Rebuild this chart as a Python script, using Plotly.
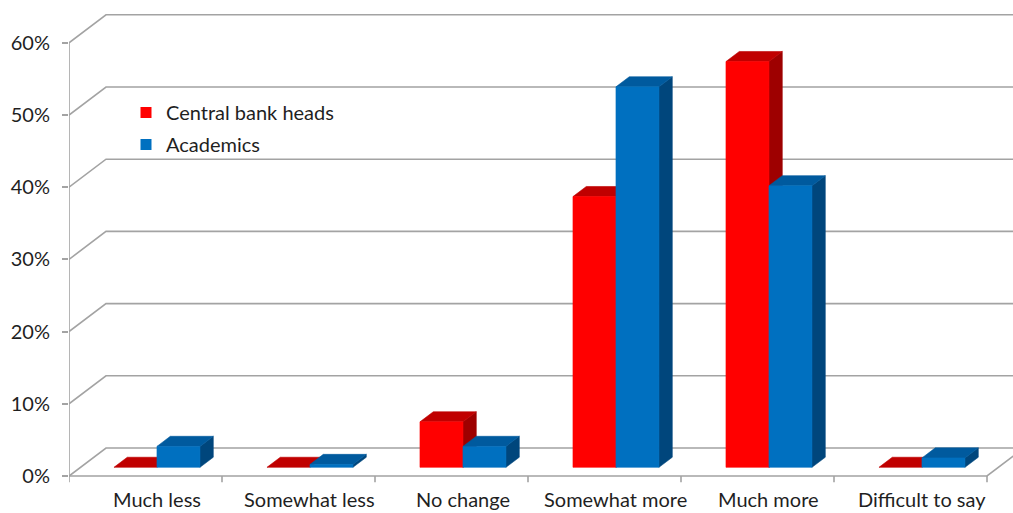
import plotly.graph_objects as go

categories = ["Much less", "Somewhat less", "No change", "Somewhat more", "Much more", "Difficult to say"]
central_bank_heads = [0.0, 0.0, 6.3, 37.5, 56.2, 0.0]
academics = [2.9, 0.4, 2.9, 52.7, 39.0, 1.3]
y_ticks = [0, 10, 20, 30, 40, 50, 60]
y_tick_labels = ["0%", "10%", "20%", "30%", "40%", "50%", "60%"]

# ---- layout / style constants ----
W, H = 1013, 513
LEFT = 69                 # pixel of the front vertical axis
PX_PER_CAT = 153.0
PX_PER_PCT = 7.22
ZERO_PX = 476
X_MIN = -0.5
X_MAX = X_MIN + (W - LEFT) / PX_PER_CAT
Y_MIN = -(H - ZERO_PX) / PX_PER_PCT
Y_MAX = ZERO_PX / PX_PER_PCT

DX = 37 / PX_PER_CAT      # depth offset (x, category units)
DY = 28 / PX_PER_PCT      # depth offset (y, percent units)
F0, F1 = 0.31, 0.67       # bar front/back depth fractions
BAR_W = 43 / PX_PER_CAT
GRID = "#a3a3a3"
FONT = "Lato"
FS = 20
TXT = "#1f1f1f"
LABEL_CENTER_PX = 498.5

series = [
    ("Central bank heads", central_bank_heads, -1, "#ff0000", "#c00000", "#9e0000"),
    ("Academics", academics, 0, "#0070c0", "#005a9e", "#00467c"),
]

fig = go.Figure()

# ---- walls / floor / gridlines ----
n = len(categories)
x_front_l = -0.5
x_front_r = n - 0.5
x_back_l = x_front_l + DX
x_far = X_MAX + 0.5
gx, gy = [], []
for v in y_ticks:
    gx += [x_front_l, x_back_l, x_far, None]
    gy += [v, v + DY, v + DY, None]
# front floor edge and right floor diagonal
gx += [x_front_l, x_front_r, x_front_r + DX, None]
gy += [0, 0, DY, None]
# vertical front axis
gx += [x_front_l, x_front_l, None]
gy += [0, y_ticks[-1], None]
# category tick marks
for k in range(n + 1):
    gx += [x_front_l + k, x_front_l + k, None]
    gy += [0, -0.85, None]
fig.add_trace(go.Scatter(x=gx, y=gy, mode="lines", line=dict(color=GRID, width=1.6),
                         hoverinfo="skip", showlegend=False))

# ---- 3D bars ----
base0 = F0 * DY
xoff0 = F0 * DX
ddx = (F1 - F0) * DX
ddy = (F1 - F0) * DY
for name, vals, side, c_front, c_top, c_side in series:
    fx, fy, tx, ty, sx, sy = [], [], [], [], [], []
    for i, v in enumerate(vals):
        x0 = i + side * BAR_W + xoff0
        x1 = x0 + BAR_W
        b = base0
        h = base0 + v
        if v > 0:
            fx += [x0, x1, x1, x0, x0, None]
            fy += [b, b, h, h, b, None]
            sx += [x1, x1 + ddx, x1 + ddx, x1, x1, None]
            sy += [b, b + ddy, h + ddy, h, b, None]
        tx += [x0, x1, x1 + ddx, x0 + ddx, x0, None]
        ty += [h, h, h + ddy, h + ddy, h, None]
    for xs, ys, col in ((sx, sy, c_side), (tx, ty, c_top), (fx, fy, c_front)):
        fig.add_trace(go.Scatter(x=xs, y=ys, mode="lines", fill="toself", fillcolor=col,
                                 line=dict(width=0.6, color=col), hoverinfo="skip",
                                 showlegend=False))
    fig.add_trace(go.Scatter(x=[None], y=[None], mode="markers", name=name,
                             legendgroup=name,
                             marker=dict(symbol="square", size=11, color=c_front)))

# ---- category labels ----
for i, c in enumerate(categories):
    fig.add_annotation(x=i + xoff0, y=-(LABEL_CENTER_PX - ZERO_PX) / PX_PER_PCT, text=c,
                       showarrow=False, xanchor="center", yanchor="middle", borderpad=0,
                       font=dict(family=FONT, size=FS, color=TXT))

fig.update_layout(
    width=W, height=H,
    margin=dict(l=LEFT, r=0, t=0, b=0),
    plot_bgcolor="white", paper_bgcolor="white",
    xaxis=dict(range=[X_MIN, X_MAX], visible=False, fixedrange=True),
    yaxis=dict(range=[Y_MIN, Y_MAX], tickvals=y_ticks, ticktext=y_tick_labels,
               ticks="outside", ticklen=6, tickcolor=GRID, tickwidth=1.6,
               showgrid=False, zeroline=False, showline=False,
               ticklabelstandoff=8,
               tickfont=dict(family=FONT, size=FS, color=TXT)),
    showlegend=True,
    legend=dict(x=(126 - LEFT) / (W - LEFT), y=1 - 93 / H, xanchor="left", yanchor="top",
                bgcolor="rgba(0,0,0,0)", tracegroupgap=3,
                font=dict(family=FONT, size=FS, color=TXT)),
)

fig.write_html("out.html")
